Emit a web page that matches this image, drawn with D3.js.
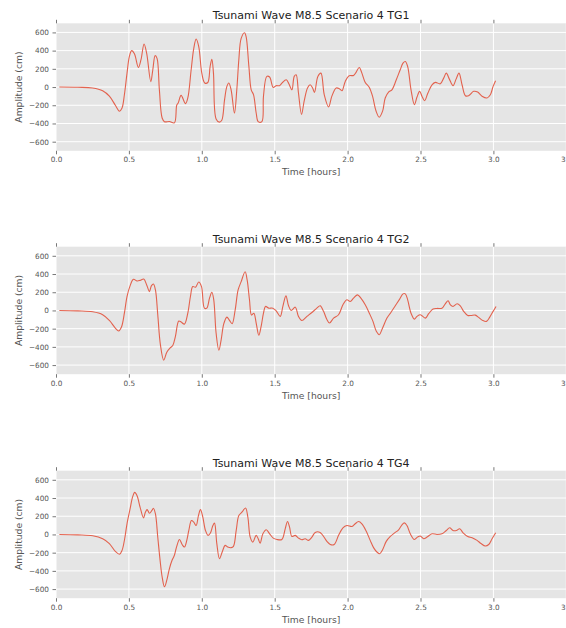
<!DOCTYPE html>
<html>
<head>
<meta charset="utf-8">
<script src="https://cdn.jsdelivr.net/npm/d3@7"></script>
<style>
  body { margin: 0; background: #fff; }
  svg { display: block; }
  .tick text { font-family: "DejaVu Sans", sans-serif; fill: #555; }
  .tick line { stroke: #555; stroke-width: 0.8; }
</style>
</head>
<body>
<div id="chart"></div>
<script>
// Tide gauge records [hours, cm]
var tg1 = [
  [0.023,0],[0.15,-3],[0.25,-10],[0.32,-40],[0.366,-100],[0.407,-200],[0.435,-265],[0.453,-230],[0.469,-85],[0.487,150],
  [0.503,335],[0.519,400],[0.538,365],[0.565,215],[0.583,300],[0.604,473],[0.622,370],[0.65,60],[0.664,190],[0.68,345],
  [0.693,315],[0.709,-30],[0.728,-340],[0.744,-380],[0.778,-378],[0.812,-393],[0.828,-200],[0.838,-175],[0.858,-91],[0.888,-182],
  [0.904,-120],[0.927,190],[0.945,425],[0.961,528],[0.979,445],[1.0,153],[1.02,45],[1.041,50],[1.057,225],[1.069,305],
  [1.08,153],[1.098,-350],[1.121,-385],[1.137,-365],[1.156,-140],[1.172,7],[1.185,45],[1.201,-30],[1.224,-285],[1.24,-30],
  [1.254,300],[1.27,535],[1.293,597],[1.304,553],[1.323,225],[1.339,-30],[1.355,-85],[1.373,-285],[1.387,-380],[1.412,-380],
  [1.423,-100],[1.446,117],[1.465,110],[1.49,-5],[1.51,15],[1.533,15],[1.551,45],[1.579,80],[1.597,36],[1.618,-30],
  [1.634,117],[1.647,135],[1.663,-65],[1.684,-300],[1.702,-155],[1.725,-10],[1.743,25],[1.76,-10],[1.773,-58],[1.796,117],
  [1.817,153],[1.84,-85],[1.87,-218],[1.892,-100],[1.922,-10],[1.943,-18],[1.961,-40],[1.984,62],[2.011,124],[2.041,127],
  [2.059,164],[2.08,215],[2.098,153],[2.121,51],[2.149,-4],[2.171,-100],[2.194,-258],[2.217,-331],[2.24,-265],[2.258,-120],
  [2.281,-55],[2.304,-30],[2.334,80],[2.361,190],[2.38,262],[2.396,280],[2.412,225],[2.435,-30],[2.458,-193],[2.476,-110],
  [2.494,-47],[2.51,-100],[2.528,-150],[2.551,-65],[2.579,25],[2.602,51],[2.636,36],[2.659,98],[2.677,153],[2.698,87],
  [2.723,15],[2.744,87],[2.764,153],[2.785,25],[2.808,-95],[2.83,-95],[2.865,-47],[2.892,-55],[2.922,-100],[2.956,-120],
  [2.979,-85],[2.998,7],[3.015,70]
];

var tg2 = [
  [0.023,0],[0.15,-5],[0.252,-15],[0.32,-47],[0.366,-110],[0.407,-193],[0.43,-225],[0.449,-182],[0.469,-30],[0.487,153],
  [0.508,270],[0.531,342],[0.556,324],[0.577,330],[0.602,345],[0.622,280],[0.641,207],[0.654,270],[0.668,291],[0.682,225],
  [0.698,-47],[0.716,-375],[0.739,-546],[0.76,-458],[0.783,-411],[0.801,-385],[0.819,-285],[0.842,-116],[0.858,-127],[0.881,-150],
  [0.904,-30],[0.922,153],[0.938,262],[0.957,255],[0.979,313],[0.998,262],[1.018,25],[1.034,25],[1.053,135],[1.069,200],
  [1.082,117],[1.098,-248],[1.117,-437],[1.133,-320],[1.151,-145],[1.172,-73],[1.19,-110],[1.208,-145],[1.229,7],[1.249,225],
  [1.27,316],[1.297,425],[1.311,335],[1.327,117],[1.341,-51],[1.357,-30],[1.373,-138],[1.391,-273],[1.407,-175],[1.423,-30],
  [1.437,44],[1.46,25],[1.487,25],[1.51,-4],[1.538,-65],[1.556,44],[1.577,160],[1.595,51],[1.613,0],[1.641,36],
  [1.663,-65],[1.686,-110],[1.721,-65],[1.755,-22],[1.789,25],[1.812,51],[1.835,-10],[1.858,-100],[1.876,-138],[1.904,-84],
  [1.938,-47],[1.968,62],[1.995,117],[2.018,98],[2.041,135],[2.068,171],[2.091,135],[2.121,62],[2.149,-30],[2.174,-120],
  [2.197,-229],[2.217,-266],[2.24,-193],[2.27,-84],[2.297,-22],[2.327,51],[2.357,124],[2.38,182],[2.396,182],[2.412,117],
  [2.435,-30],[2.458,-95],[2.476,-65],[2.499,-47],[2.533,-84],[2.556,-36],[2.586,15],[2.613,22],[2.647,25],[2.67,73],
  [2.689,106],[2.705,62],[2.723,44],[2.751,73],[2.773,51],[2.796,-10],[2.824,-55],[2.847,-55],[2.876,-51],[2.899,-76],
  [2.927,-110],[2.952,-120],[2.975,-73],[2.998,-10],[3.018,44]
];

var tg4 = [
  [0.023,0],[0.15,-5],[0.252,-15],[0.32,-47],[0.366,-100],[0.407,-186],[0.435,-218],[0.453,-175],[0.471,-47],[0.487,117],
  [0.508,280],[0.526,415],[0.54,462],[0.556,425],[0.577,298],[0.6,182],[0.613,244],[0.625,273],[0.641,233],[0.657,262],
  [0.668,288],[0.682,225],[0.698,-30],[0.714,-284],[0.728,-466],[0.744,-575],[0.76,-502],[0.778,-375],[0.796,-284],[0.812,-229],
  [0.828,-131],[0.847,-55],[0.865,-110],[0.881,-138],[0.897,-65],[0.911,44],[0.929,153],[0.945,135],[0.961,98],[0.977,207],
  [0.991,273],[1.007,189],[1.025,44],[1.043,-10],[1.059,15],[1.076,98],[1.087,124],[1.103,-100],[1.121,-266],[1.14,-193],
  [1.16,-120],[1.178,-138],[1.201,-145],[1.217,-131],[1.236,44],[1.254,207],[1.275,244],[1.3,291],[1.316,189],[1.332,-30],
  [1.35,-84],[1.373,-10],[1.387,-47],[1.4,-95],[1.419,7],[1.442,51],[1.465,7],[1.49,-40],[1.515,-55],[1.549,-55],
  [1.572,62],[1.588,142],[1.602,80],[1.618,-22],[1.641,-10],[1.663,-40],[1.686,-58],[1.709,-47],[1.732,-65],[1.755,-29],
  [1.778,22],[1.808,25],[1.83,-10],[1.858,-76],[1.881,-110],[1.908,-110],[1.938,-10],[1.968,73],[1.995,98],[2.03,87],
  [2.052,117],[2.075,142],[2.098,117],[2.128,36],[2.155,-65],[2.178,-145],[2.201,-193],[2.22,-211],[2.24,-167],[2.265,-76],
  [2.293,-22],[2.32,15],[2.35,51],[2.373,106],[2.389,127],[2.407,98],[2.43,7],[2.458,-55],[2.48,-29],[2.499,-18],
  [2.522,-47],[2.545,-29],[2.579,7],[2.613,0],[2.647,7],[2.677,44],[2.7,73],[2.723,44],[2.746,44],[2.769,62],
  [2.792,18],[2.824,-22],[2.854,-36],[2.888,-65],[2.915,-100],[2.945,-127],[2.968,-110],[2.991,-47],[3.016,18]
];

var panelTitles = [
  "Tsunami Wave M8.5 Scenario 4 TG1",
  "Tsunami Wave M8.5 Scenario 4 TG2",
  "Tsunami Wave M8.5 Scenario 4 TG4"
];
var panelData = [tg1, tg2, tg4];

var xDomain = [0, 3.5];
var yDomain = [-700, 700];
var xTicks = [0, 0.5, 1, 1.5, 2, 2.5, 3, 3.5];
var yTicks = [-600, -400, -200, 0, 200, 400, 600];

// page layout
var svgWidth = 566, svgHeight = 628;
var plotLeft = 56, plotRight = 566.3;
var plotTops = [23.3, 246.7, 470.7];
var plotHeight = 127.5;

var svg = d3.select("#chart").append("svg")
  .attr("width", svgWidth)
  .attr("height", svgHeight);

var x = d3.scaleLinear().domain(xDomain).range([plotLeft, plotRight]);

panelData.forEach(function(series, i) {
  var top = plotTops[i];
  var bottom = top + plotHeight;
  var y = d3.scaleLinear().domain(yDomain).range([bottom, top]);

  var g = svg.append("g");

  // grey panel
  g.append("rect")
    .attr("x", plotLeft)
    .attr("y", top)
    .attr("width", plotRight - plotLeft)
    .attr("height", plotHeight)
    .attr("fill", "#E5E5E5");

  // white grid
  g.selectAll(".vgrid").data(xTicks).enter().append("line")
    .attr("x1", d => x(d)).attr("x2", d => x(d))
    .attr("y1", top).attr("y2", bottom)
    .attr("stroke", "#fff").attr("stroke-width", 1);
  g.selectAll(".hgrid").data(yTicks).enter().append("line")
    .attr("x1", plotLeft).attr("x2", plotRight)
    .attr("y1", d => y(d)).attr("y2", d => y(d))
    .attr("stroke", "#fff").attr("stroke-width", 1);

  // wave
  var line = d3.line()
    .x(d => x(d[0]))
    .y(d => y(d[1]))
    .curve(d3.curveCatmullRom.alpha(0.5));

  g.append("path")
    .datum(series)
    .attr("d", line)
    .attr("fill", "none")
    .attr("stroke", "#E24A33")
    .attr("stroke-opacity", 0.85)
    .attr("stroke-width", 1.1)
    .attr("stroke-linejoin", "round");

  // axes
  var bottomAxis = d3.axisBottom(x).tickValues(xTicks)
    .tickFormat(d3.format(".1f")).tickSize(3.5).tickSizeOuter(0).tickPadding(3);
  var topAxis = d3.axisTop(x).tickValues(xTicks)
    .tickFormat("").tickSize(3.5).tickSizeOuter(0);
  var leftAxis = d3.axisLeft(y).tickValues(yTicks)
    .tickFormat(d3.format("d")).tickSize(3.5).tickSizeOuter(0).tickPadding(3.5);

  var xa = g.append("g").attr("transform", `translate(0,${bottom})`).call(bottomAxis);
  var xt = g.append("g").attr("transform", `translate(0,${top})`).call(topAxis);
  var ya = g.append("g").attr("transform", `translate(${plotLeft},0)`).call(leftAxis);
  [xa, xt, ya].forEach(a => a.select(".domain").remove());
  g.selectAll(".tick text").attr("font-size", "7.3px");

  // title
  g.append("text")
    .attr("x", (plotLeft + plotRight) / 2)
    .attr("y", top - 4)
    .attr("text-anchor", "middle")
    .attr("font-family", "DejaVu Sans, sans-serif")
    .attr("font-size", "11px")
    .attr("fill", "#222")
    .text(panelTitles[i]);

  // axis labels
  g.append("text")
    .attr("x", (plotLeft + plotRight) / 2)
    .attr("y", bottom + 24.5)
    .attr("text-anchor", "middle")
    .attr("font-family", "DejaVu Sans, sans-serif")
    .attr("font-size", "9.2px")
    .attr("fill", "#555")
    .text("Time [hours]");

  g.append("text")
    .attr("transform", `translate(21.5,${(top + bottom) / 2}) rotate(-90)`)
    .attr("text-anchor", "middle")
    .attr("font-family", "DejaVu Sans, sans-serif")
    .attr("font-size", "9.2px")
    .attr("fill", "#555")
    .text("Amplitude (cm)");
});
</script>
</body>
</html>
